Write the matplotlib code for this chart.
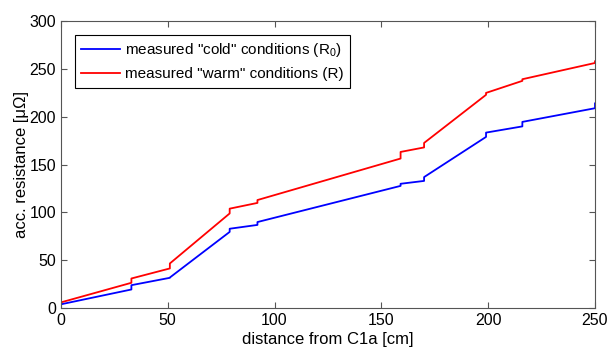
import matplotlib
matplotlib.use("Agg")
import matplotlib.pyplot as plt

plt.rcParams['font.family'] = ['Liberation Sans', 'DejaVu Sans']
plt.rcParams['mathtext.default'] = 'regular'

# distance [cm]; repeated x values give the small steps at the joints
dist = [0, 33, 33, 51, 51, 79, 79, 92, 92, 159, 159, 170, 170, 199, 199, 216, 216, 250, 250]
r_cold = [4, 19.5, 24, 31.7, 32, 79.7, 83, 87, 90, 127.8, 130, 133, 137, 179, 183.5, 190, 194.7, 209, 214]
r_warm = [6, 26.5, 31, 41.5, 46.7, 99, 104, 110, 113, 156.4, 163.3, 168, 172.7, 223, 225, 237.6, 239.3, 256.3, 258]

fig = plt.figure(figsize=(6.09, 3.47), dpi=100)
ax = fig.add_axes([0.100, 0.112, 0.877, 0.827])

ax.plot(dist, r_cold, color='#0000ff', lw=1.3, label='measured "cold" conditions (R$_0$)')
ax.plot(dist, r_warm, color='#ff0000', lw=1.3, label='measured "warm" conditions (R)')

ax.set_xlim(0, 250)
ax.set_ylim(0, 300)
ax.set_xticks([0, 50, 100, 150, 200, 250])
ax.set_yticks([0, 50, 100, 150, 200, 250, 300])
ax.tick_params(direction='in', top=True, right=True, labelsize=11.5, length=4, color='#555555')
for s in ax.spines.values():
    s.set_color('#555555')
ax.set_xlabel('distance from C1a [cm]', fontsize=12, labelpad=3)
ax.set_ylabel('acc. resistance [μΩ]', fontsize=12, labelpad=0)

leg = ax.legend(loc='upper left', fontsize=11, fancybox=False, framealpha=1,
                edgecolor='black', handlelength=2.6, borderaxespad=0.9,
                handletextpad=0.3, labelspacing=0.55)
leg.get_frame().set_linewidth(0.8)

fig.savefig('out.png', dpi=100)
